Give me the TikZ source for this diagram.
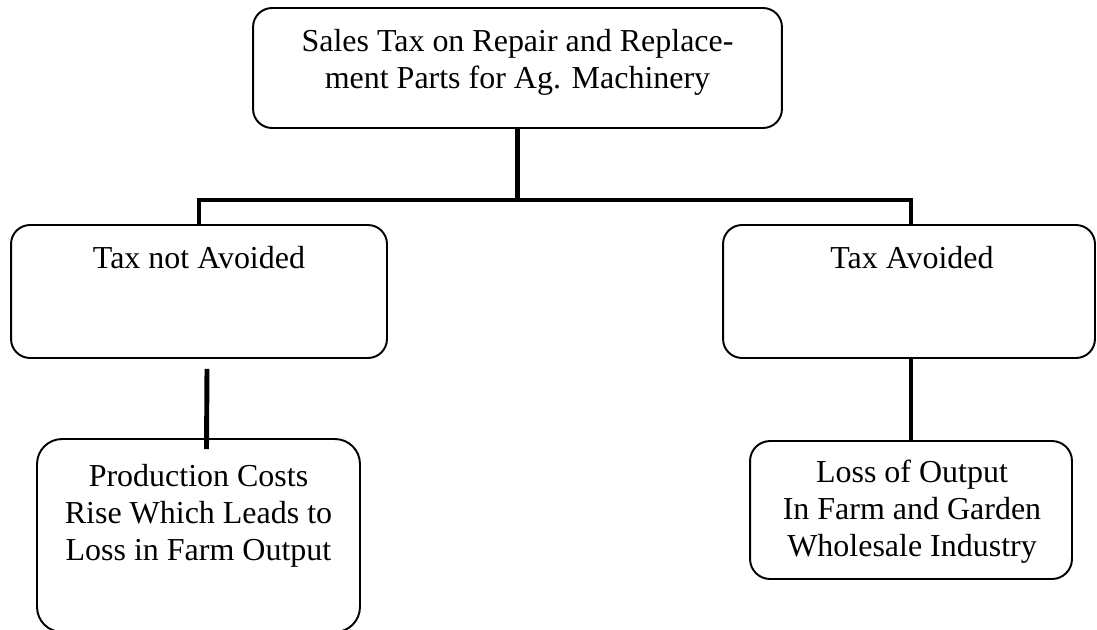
\documentclass[tikz,border=0pt]{standalone}
\usepackage{fontspec}
\setmainfont{Liberation Serif}
\usetikzlibrary{calc}

\begin{document}
\begin{tikzpicture}[x=0.02cm, y=-0.02cm,
    link/.style={line width=2.8pt, line join=miter}]
    \useasboundingbox (0,0) rectangle (1097,629);
    \begin{scope}[every node/.style={draw, line width=1.1pt, inner sep=0pt, rounded corners=0.38cm}]
      \node[minimum width=10.58cm, minimum height=2.4cm] (sales) at (517.5,68) {};
      \node[minimum width=7.52cm, minimum height=2.66cm] (notav) at (199,291.5) {};
      \node[minimum width=7.44cm, minimum height=2.66cm] (av) at (909,291.5) {};
      \node[minimum width=6.46cm, minimum height=3.86cm, rounded corners=0.5cm] (cost) at (198.5,535.5) {};
      \node[minimum width=6.44cm, minimum height=2.76cm, rounded corners=0.4cm] (loss) at (911,510) {};
    \end{scope}
    % base of a multi-line node is its last line
    \begin{scope}[every node/.style={align=center, anchor=base, inner sep=0pt,
        font=\fontsize{18.2}{21}\selectfont}]
      \node (salestext) at (517.5,88) {Sales Tax on Repair and Replace-\\ment Parts for Ag. Machinery};
      \node (notavtext) at (199,268) {Tax not Avoided};
      \node (avtext) at (912,268) {Tax Avoided};
      \node (costtext) at (198.5,560) {Production Costs\\Rise Which Leads to\\Loss in Farm Output};
      \node (losstext) at (912,556) {Loss of Output\\In Farm and Garden\\Wholesale Industry};
    \end{scope}

    \coordinate (split) at (517.5,200);
    \draw[link] (sales.south) -- (split);
    \draw[link] (notav.north) |- (split) -| ($(av.north)+(2,0)$);
    \draw[link] ($(notav.south)+(8,10)$) -- ($(cost.north)+(8,11)$);
    \draw[link] ($(av.south)+(2,0)$) -- (loss.north);
\end{tikzpicture}
\end{document}
